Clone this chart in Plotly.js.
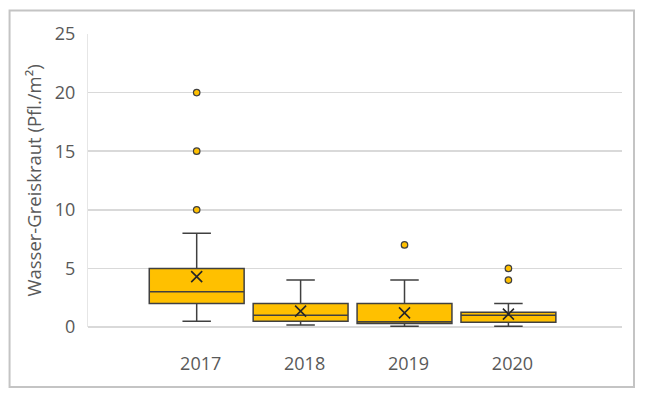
<!DOCTYPE html>
<html>
<head>
<meta charset="utf-8">
<script src="https://cdn.plot.ly/plotly-3.0.1.min.js"></script>
<style>html,body{margin:0;padding:0;background:#fff;}#chart{width:646px;height:395px;}</style>
</head>
<body>
<div id="chart"></div>
<script>
const years = ['2017', '2018', '2019', '2020'];
const q1 = [2, 0.5, 0.3, 0.4];
const median = [3, 1, 0.45, 1.0];
const q3 = [5, 2, 2, 1.25];
const lowerWhisker = [0.5, 0.17, 0.06, 0.06];
const upperWhisker = [8, 4, 4, 2];
const means = [4.3, 1.36, 1.2, 1.1];
const outlierYears = ['2017', '2017', '2017', '2019', '2020', '2020'];
const outlierValues = [10, 15, 20, 7, 4, 5];
const yTicks = [0, 5, 10, 15, 20, 25];

const lineCol = '#404040';
const fillCol = '#FFC000';
const textCol = '#595959';
const fontFam = '"Open Sans", "Noto Sans", sans-serif';

const data = [
  {
    type: 'box',
    x: years,
    q1: q1,
    median: median,
    q3: q3,
    lowerfence: lowerWhisker,
    upperfence: upperWhisker,
    width: 0.913,
    whiskerwidth: 0.3,
    fillcolor: fillCol,
    line: {color: lineCol, width: 1.5},
    boxpoints: false,
    hoverinfo: 'skip',
    showlegend: false
  },
  {
    type: 'scatter',
    mode: 'markers',
    x: years,
    y: means,
    marker: {symbol: 'x-thin-open', size: 11, line: {color: '#262626', width: 1.6}, color: '#262626'},
    hoverinfo: 'skip',
    showlegend: false
  },
  {
    type: 'scatter',
    mode: 'markers',
    x: outlierYears,
    y: outlierValues,
    marker: {symbol: 'circle', size: 6.5, color: fillCol, line: {color: lineCol, width: 1.2}},
    hoverinfo: 'skip',
    showlegend: false
  }
];

const layout = {
  width: 646,
  height: 395,
  margin: {l: 87.5, r: 24, t: 33.5, b: 68, pad: 0},
  paper_bgcolor: '#ffffff',
  plot_bgcolor: '#ffffff',
  font: {family: fontFam, size: 18, color: textCol},
  xaxis: {
    type: 'category',
    range: [-1.046, 4.093],
    showgrid: false,
    zeroline: false,
    showline: false,
    ticks: '',
    ticklabelstandoff: 24,
    ticklabelshift: 4,
    tickfont: {family: fontFam, size: 18, color: textCol},
    fixedrange: true
  },
  yaxis: {
    range: [0, 25],
    tickvals: yTicks,
    ticktext: yTicks.map(String),
    showgrid: true,
    gridcolor: '#d9d9d9',
    gridwidth: 1.5,
    zeroline: true,
    zerolinecolor: '#d9d9d9',
    zerolinewidth: 1.5,
    showline: true,
    linecolor: '#e6e6e6',
    linewidth: 1,
    ticks: '',
    ticklabelstandoff: 8,
    tickfont: {family: fontFam, size: 18, color: textCol},
    title: {text: 'Wasser-Greiskraut (Pfl./m²)', font: {family: fontFam, size: 18.5, color: textCol}},
    fixedrange: true
  },
  shapes: [
    {
      type: 'rect', xref: 'paper', yref: 'paper',
      x0: -0.1469, x1: 1.0225, y0: -0.2044, y1: 1.080,
      line: {color: '#c4c4c4', width: 2}, fillcolor: 'rgba(0,0,0,0)', layer: 'below'
    }
  ]
};

Plotly.newPlot('chart', data, layout, {displayModeBar: false, staticPlot: true});
</script>
</body>
</html>
